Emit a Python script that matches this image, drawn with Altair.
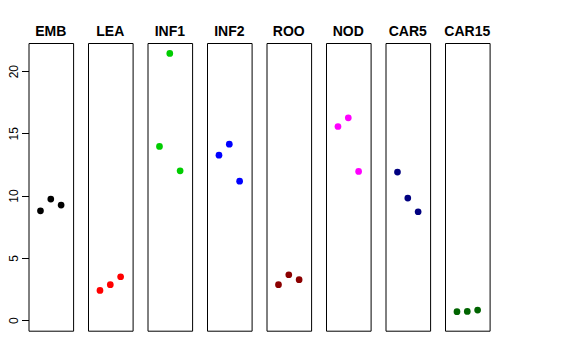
import altair as alt
import pandas as pd

groups = ["EMB", "LEA", "INF1", "INF2", "ROO", "NOD", "CAR5", "CAR15"]
colors = ["#000000", "#FF0000", "#00CD00", "#0000FF", "#8B0000", "#FF00FF", "#000080", "#006400"]
emb = [8.78, 9.72, 9.24]
lea = [2.38, 2.84, 3.48]
inf1 = [13.95, 21.42, 11.99]
inf2 = [13.25, 14.13, 11.16]
roo = [2.84, 3.64, 3.24]
nod = [15.55, 16.25, 11.94]
car5 = [11.89, 9.80, 8.70]
car15 = [0.67, 0.69, 0.80]
reps = [1, 2, 3]
y_ticks = [0, 5, 10, 15, 20]

series = [emb, lea, inf1, inf2, roo, nod, car5, car15]
rows = []
for g, vals in zip(groups, series):
    for r, v in zip(reps, vals):
        rows.append({"group": g, "rep": r, "value": v})
df = pd.DataFrame(rows)

points = alt.Chart(df).mark_circle(size=45, opacity=1).encode(
    x=alt.X("rep:Q", scale=alt.Scale(domain=[-0.16, 4.16], nice=False, zero=False), axis=None),
    y=alt.Y("value:Q",
            scale=alt.Scale(domain=[-0.856, 22.26], nice=False, zero=False),
            axis=alt.Axis(values=y_ticks, title=None, domain=False, grid=False,
                          tickSize=7, tickColor="black", labelAngle=270,
                          labelAlign="center", labelBaseline="bottom",
                          labelPadding=1, labelFontSize=12, labelColor="black",
                          labelFont="Liberation Sans",
                          minExtent=20.7, maxExtent=20.7)),
    color=alt.Color("group:N", scale=alt.Scale(domain=groups, range=colors), legend=None),
).properties(width=44.6, height=287.7)

chart = points.facet(
    column=alt.Column("group:N", sort=groups,
                      header=alt.Header(title=None, labelFontSize=14, labelFontWeight="bold",
                                        labelFont="Liberation Sans", labelColor="black",
                                        labelPadding=4)),
    spacing=14.5,
    bounds="flush",
).properties(
    padding={"left": -1.5, "top": 17, "right": 5, "bottom": 5}
).configure_view(stroke="black", strokeWidth=1)

chart.save("out.html", embed_options={"renderer": "svg", "actions": False})
